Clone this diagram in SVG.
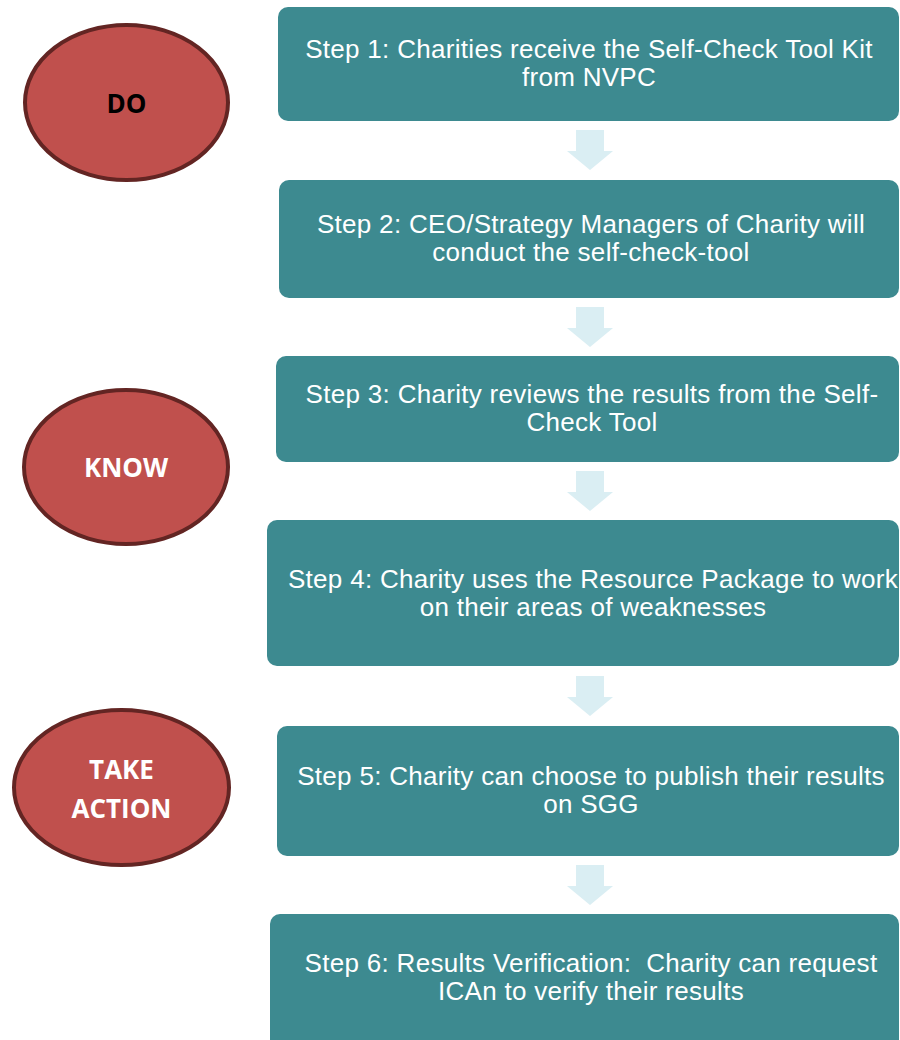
<svg xmlns="http://www.w3.org/2000/svg" width="900" height="1040" viewBox="0 0 900 1040">
  <style>
    .step { fill: #3D8A90; }
    .steptext { font-family: "Liberation Sans", Arial, sans-serif; font-size: 26px; letter-spacing: 0.3px; fill: #FFFFFF; text-anchor: middle; }
    .phase { fill: #C0504D; stroke: #632523; stroke-width: 4; }
    .phasetext { font-family: "Open Sans", "Liberation Sans", sans-serif; font-weight: bold; font-size: 26px; text-anchor: middle; }
    .arrow { fill: #DAEEF3; }
  </style>
  <defs>
    <!-- block down-arrow, tip at origin -->
    <polygon id="down" points="-14,-40 14,-40 14,-19 23,-19 0,0 -23,-19 -14,-19"/>
  </defs>

  <rect width="900" height="1040" fill="#FFFFFF"/>

  <!-- phase ellipses -->
  <g id="phase-do">
    <ellipse class="phase" cx="126.5" cy="102.5" rx="101.5" ry="77.5"/>
    <text class="phasetext" x="126.5" y="113" fill="#000000">DO</text>
  </g>
  <g id="phase-know">
    <ellipse class="phase" cx="126" cy="467" rx="102" ry="77"/>
    <text class="phasetext" x="126" y="477" fill="#FFFFFF">KNOW</text>
  </g>
  <g id="phase-take-action">
    <ellipse class="phase" cx="121.5" cy="787.5" rx="107.5" ry="77.5"/>
    <text class="phasetext" x="121.5" y="779" fill="#FFFFFF">TAKE</text>
    <text class="phasetext" x="121.5" y="818" fill="#FFFFFF">ACTION</text>
  </g>

  <!-- step boxes -->
  <g id="step1">
    <rect class="step" x="278" y="7" width="621" height="114" rx="10"/>
    <text class="steptext" x="589" y="58">Step 1: Charities receive the Self-Check Tool Kit</text>
    <text class="steptext" x="589" y="86">from NVPC</text>
  </g>
  <g id="step2">
    <rect class="step" x="279" y="180" width="620" height="118" rx="10"/>
    <text class="steptext" x="591" y="233">Step 2: CEO/Strategy Managers of Charity will</text>
    <text class="steptext" x="591" y="261">conduct the self-check-tool</text>
  </g>
  <g id="step3">
    <rect class="step" x="276" y="356" width="623" height="106" rx="10"/>
    <text class="steptext" x="592" y="403">Step 3: Charity reviews the results from the Self-</text>
    <text class="steptext" x="592" y="431">Check Tool</text>
  </g>
  <g id="step4">
    <rect class="step" x="267" y="520" width="632" height="146" rx="10"/>
    <text class="steptext" x="593" y="588">Step 4: Charity uses the Resource Package to work</text>
    <text class="steptext" x="593" y="616">on their areas of weaknesses</text>
  </g>
  <g id="step5">
    <rect class="step" x="277" y="726" width="622" height="130" rx="10"/>
    <text class="steptext" x="591" y="785">Step 5: Charity can choose to publish their results</text>
    <text class="steptext" x="591" y="813">on SGG</text>
  </g>
  <g id="step6">
    <rect class="step" x="270" y="914" width="629" height="136" rx="10"/>
    <text class="steptext" x="591" y="972" xml:space="preserve">Step 6: Results Verification:  Charity can request</text>
    <text class="steptext" x="591" y="1000">ICAn to verify their results</text>
  </g>

  <!-- connectors between steps -->
  <g id="connectors" class="arrow">
    <use href="#down" x="590" y="170"/>
    <use href="#down" x="590" y="347"/>
    <use href="#down" x="590" y="511"/>
    <use href="#down" x="590" y="716"/>
    <use href="#down" x="590" y="905"/>
  </g>
</svg>
